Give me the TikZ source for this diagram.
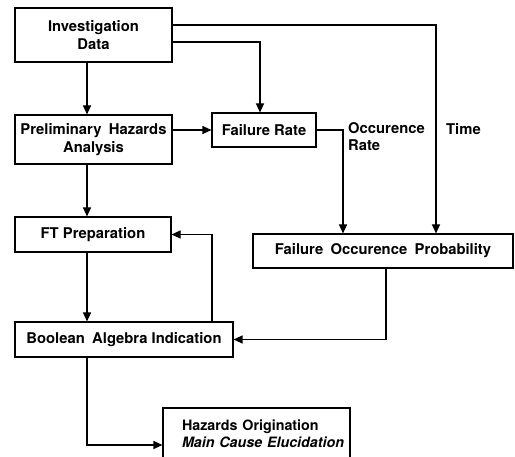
\documentclass[tikz,border=0pt]{standalone}
\usepackage{fontspec}
\setmainfont{TeX Gyre Heros}
\usetikzlibrary{arrows.meta}

\tikzset{
    box/.style={draw, line width=1.1pt, inner sep=2pt, align=center,
        font=\fontsize{14.8}{17.5}\selectfont\bfseries},
    arr/.style={line width=1.1pt, -{Triangle[length=9pt,width=8pt]}},
    lbl/.style={inner sep=0pt, align=left, font=\fontsize{14.8}{17.5}\selectfont\bfseries}
}

\begin{document}
\begin{tikzpicture}[x=1pt, y=-1pt]
    % Fix the frame of the picture
    \useasboundingbox (0,0) rectangle (515,457);

    % Left column of boxes
    \node[box, minimum width=157pt, minimum height=54pt] (inv) at (93.5,35) {Investigation\\Data};
    \node[box, minimum width=157pt, minimum height=49pt] (pha) at (93.5,139.5) {Preliminary\enspace Hazards\\Analysis};
    \node[box, minimum width=156pt, minimum height=35pt] (ftp) at (93,234.5) {FT Preparation};
    \node[box, minimum width=218pt, minimum height=35pt] (baa) at (124,339.5) {Boolean\enspace Algebra Indication};

    % Right column of boxes
    \node[box, minimum width=104pt, minimum height=34pt] (fr) at (264,130) {Failure Rate};
    \node[box, minimum width=260pt, minimum height=34pt] (fop) at (383,251) {Failure\enspace Occurence\enspace Probability};

    % Result box, cut by the lower edge
    \node[box, inner sep=0pt, minimum height=52pt, align=left, text width=187pt,
        font=\fontsize{14.3}{16.5}\selectfont\bfseries] (hmc) at (256.5,434)
        {\hspace*{19pt}Hazards Origination\\\hspace*{19pt}\itshape Main Cause Elucidation};

    % Labels beside the connectors
    \node[lbl, anchor=north west] (occ) at (348,122) {Occurence\\Rate};
    \node[lbl, anchor=north west] (time) at (446,123) {Time};

    % Column line of the left chain
    \coordinate (lc) at (87,0);

    % Draw the left chain
    \draw[arr] (inv.south -| lc) -- (pha.north -| lc);
    \draw[arr] (pha.south -| lc) -- (ftp.north -| lc);
    \draw[arr] (ftp.south -| lc) -- (baa.north -| lc);
    \draw[arr] (baa.south -| lc) |- ([yshift=-11pt]hmc.west);

    % Draw the links to the right column
    \draw[arr] (pha.east |- fr.west) -- (fr.west);
    \draw[arr] ([yshift=-7pt]inv.east) -| ([xshift=-4pt]fr.north);
    \draw[arr] ([yshift=10pt]inv.east) -| ([xshift=53pt]fop.north);
    \draw[arr] (fr.east) -| ([xshift=-40pt]fop.north);

    % Draw the feedback links
    \draw[arr] ([xshift=3pt]fop.south) |- (baa.east);
    \draw[arr] ([xshift=88pt]baa.north) |- (ftp.east);

\end{tikzpicture}
\end{document}
